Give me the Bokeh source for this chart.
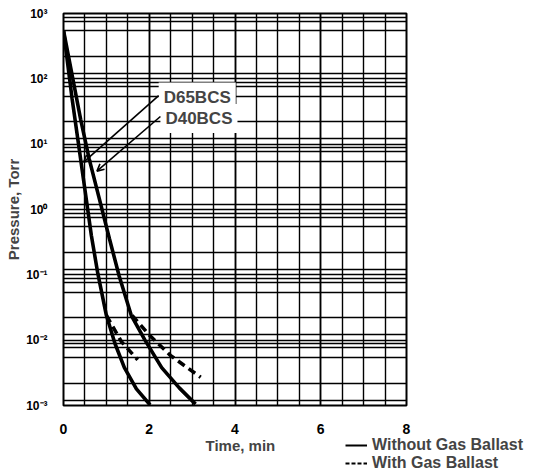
import math
from bokeh.plotting import figure
from bokeh.layouts import column
from bokeh.models import Range1d, FixedTicker, Label, Legend, LegendItem, Arrow, OpenHead
from bokeh.embed import file_html
from bokeh.resources import INLINE

FONT = "Liberation Sans"

# ---- data ----
x_ticks = [0, 2, 4, 6, 8]
x_minor = [i * 0.5 for i in range(17)]
y_ticks = [1e-3, 1e-2, 1e-1, 1e0, 1e1, 1e2, 1e3]
y_tick_labels = ["10\u207b\u00b3", "10\u207b\u00b2", "10\u207b\u00b9", "10\u2070", "10\u00b9", "10\u00b2", "10\u00b3"]
y_minor_mult = [1.2, 2.2, 5.4, 7.6, 8.8]

# D65BCS, without gas ballast
d65_time = [0, 0.2, 0.4, 0.5, 0.65, 0.8, 1.0, 1.2, 1.42, 1.7, 2.02]
d65_p = [550, 50, 5.9, 2.0, 0.40, 0.105, 0.024, 0.0089, 0.0038, 0.0018, 0.00102]
# D40BCS, without gas ballast
d40_time = [0, 0.4, 0.6, 0.82, 1.07, 1.3, 1.58, 1.9, 2.29, 2.7, 3.08]
d40_p = [550, 24, 5.9, 1.6, 0.36, 0.095, 0.024, 0.010, 0.0038, 0.00186, 0.00105]
# with gas ballast
d65_gb_time = [1.0, 1.35, 1.73]
d65_gb_p = [0.024, 0.0095, 0.005]
d40_gb_time = [1.6, 2.0, 2.5, 3.2]
d40_gb_p = [0.024, 0.012, 0.0058, 0.0027]

series_labels = ["D65BCS", "D40BCS"]
legend_labels = ["Without Gas Ballast", "With Gas Ballast"]
x_title = "Time, min"
y_title = "Pressure, Torr"

y_minor = [m * d for d in y_ticks[:-1] for m in y_minor_mult]

p = figure(width=541, height=436, x_range=Range1d(0, 8), y_range=Range1d(1e-3, 1e3),
           y_axis_type="log", output_backend="svg", toolbar_location=None, title=None,
           min_border_left=63, min_border_right=135, min_border_top=13, min_border_bottom=28)
p.frame_align = False

p.outline_line_color = "black"
p.outline_line_width = 2
p.background_fill_color = "white"
p.border_fill_color = "white"

p.xaxis.ticker = FixedTicker(ticks=x_ticks, minor_ticks=x_minor)
p.yaxis.ticker = FixedTicker(ticks=y_ticks, minor_ticks=y_minor)
p.yaxis.major_label_overrides = dict(zip(y_ticks, y_tick_labels))

for ax in (p.xaxis, p.yaxis):
    ax.axis_line_color = None
    ax.major_tick_line_color = None
    ax.minor_tick_line_color = None
    ax.major_label_text_font = FONT
    ax.major_label_text_font_style = "bold"
    ax.major_label_text_color = "black"
p.xaxis.major_label_text_font_size = "14px"
p.xaxis.major_label_standoff = 12
p.yaxis.major_label_text_font_size = "12px"
p.yaxis.major_label_standoff = 10
p.yaxis.axis_label = y_title
p.yaxis.axis_label_text_font = FONT
p.yaxis.axis_label_text_font_style = "bold"
p.yaxis.axis_label_text_font_size = "15px"
p.yaxis.axis_label_standoff = 1

for g in (p.xgrid, p.ygrid):
    g.grid_line_color = "black"
    g.grid_line_width = 1.6
    g.grid_line_alpha = 1.0
    g.minor_grid_line_color = "black"
    g.minor_grid_line_width = 1.4

LW = 3.6
r1 = p.line(d65_time, d65_p, line_color="black", line_width=LW)
r2 = p.line(d40_time, d40_p, line_color="black", line_width=LW)
r3 = p.line(d65_gb_time, d65_gb_p, line_color="black", line_width=LW, line_dash="8 5")
r4 = p.line(d40_gb_time, d40_gb_p, line_color="black", line_width=LW, line_dash="8 5")

# series labels with white boxes
for txt, lx, ly in ((series_labels[0], 2.22, 52.5), (series_labels[1], 2.26, 24.8)):
    p.add_layout(Label(x=lx, y=ly, text=txt, text_font=FONT, text_font_style="bold",
                       text_font_size="17px", text_baseline="middle", text_align="left",
                       background_fill_color="white", padding=5))

# leader arrows
for (xs, ys, xe, ye) in ((2.22, 55.3, 0.47, 5.3), (2.26, 26.5, 0.78, 3.87)):
    p.add_layout(Arrow(x_start=xs, y_start=ys, x_end=xe, y_end=ye, line_width=1.6,
                       line_color="black",
                       end=OpenHead(size=7, line_width=1.6, line_color="black")))

# bottom strip: x title and legend
p2 = figure(width=541, height=36, x_range=Range1d(0, 541), y_range=Range1d(0, 36),
            x_axis_type=None, y_axis_type=None, output_backend="svg",
            toolbar_location=None, min_border=0, title=None)
p2.frame_align = False
p2.outline_line_color = None
p2.grid.visible = False
p2.add_layout(Label(x=205, y=27, text=x_title, text_font=FONT, text_font_style="bold",
                    text_font_size="15px", text_align="left", text_baseline="middle"))
# legend proxies (hidden copies of the series, only their legend glyphs show)
rl1 = p2.line(d65_time, d65_p, line_color="black", line_width=2, visible=False)
rl2 = p2.line(d65_gb_time, d65_gb_p, line_color="black", line_width=2, line_dash="4 2",
              visible=False)
legend = Legend(items=[LegendItem(label=legend_labels[0], renderers=[rl1]),
                       LegendItem(label=legend_labels[1], renderers=[rl2])],
                location=(345, 0), orientation="vertical",
                border_line_color=None, background_fill_alpha=0,
                inactive_fill_alpha=0,
                margin=0, padding=0, spacing=0, glyph_width=22, glyph_height=18,
                label_height=18, label_standoff=5, label_text_font=FONT,
                label_text_font_style="bold", label_text_font_size="16px")
p2.add_layout(legend, "center")

layout = column(p, p2, spacing=0)
open("out.html", "w").write(file_html(layout, INLINE))
